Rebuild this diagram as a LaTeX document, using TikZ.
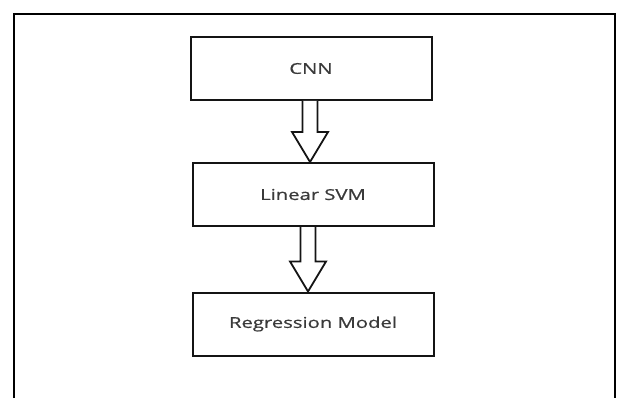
\documentclass[tikz,border=0pt]{standalone}
\usepackage{fontspec}
\usepackage{graphicx}
\newfontfamily\boxfont[FakeBold=0.6]{Open Sans}
\usetikzlibrary{calc}
\definecolor{labelgray}{HTML}{3A3A3A}
\definecolor{edgeblack}{HTML}{141414}
\newcommand{\widetext}[1]{\scalebox{1.35}[1]{#1}}
% hollow block arrow from one box to the next, shifted by #3
\newcommand{\blockarrow}[3]{%
  \draw[hollow] let \p1=($(#1.south)+(#3,0)$), \p2=(#2.north) in
    (\x1-7.5pt,\y1) -- (\x1-7.5pt,\y2+30pt) -- (\x1-18pt,\y2+30pt)
    -- (\x1,\y2) -- (\x1+18pt,\y2+30pt) -- (\x1+7.5pt,\y2+30pt)
    -- (\x1+7.5pt,\y1);}

\begin{document}
\begin{tikzpicture}[x=1pt,y=-1pt,
    stage/.style={draw=edgeblack,line width=2pt,minimum width=241pt,minimum height=63pt,
      inner sep=0pt,text=labelgray,font=\boxfont\fontsize{15}{18}\selectfont},
    hollow/.style={draw=edgeblack,line width=1.8pt,fill=white,line join=miter}]
    \useasboundingbox (0,0) rectangle (617,398);
    \draw[line width=2pt,line join=miter] (14,398) -- (14,14) -- (615,14) -- (615,398);
    \node[stage] (cnn) at (311,68.5) {\widetext{CNN}};
    \node[stage] (svm) at (313,194.5) {\widetext{Linear SVM}};
    \node[stage] (reg) at (313,324) {\widetext{Regression Model}};
    \blockarrow{cnn}{svm}{-1}
    \blockarrow{svm}{reg}{-5}
\end{tikzpicture}
\end{document}
